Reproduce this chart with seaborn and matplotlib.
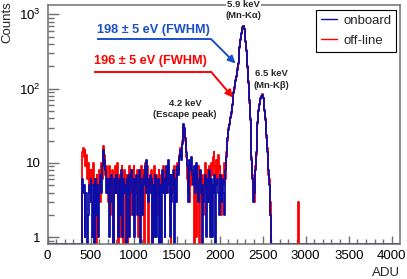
import numpy as np
import matplotlib
matplotlib.use("Agg")
import matplotlib.pyplot as plt
import seaborn as sns
from matplotlib.ticker import MultipleLocator, FixedLocator, FixedFormatter, LogLocator, NullFormatter

# ---------------- data ----------------
first_bin = 400      # ADU of first filled bin
bin_width = 10       # ADU per bin
x_max = 4096

onboard_counts = [
    6, 4, 5, 1, 4, 4, 0, 2, 5, 4,
    6, 3, 1, 5, 0, 6, 2, 5, 4, 1,
    5, 7, 4, 9, 12, 15, 11, 8, 4, 6,
    4, 6, 1, 5, 7, 3, 0, 6, 5, 4,
    7, 4, 1, 6, 2, 8, 5, 1, 6, 4,
    5, 0, 6, 4, 7, 1, 5, 8, 4, 2,
    6, 1, 5, 7, 2, 4, 8, 5, 0, 6,
    2, 5, 7, 9, 4, 11, 6, 3, 5, 7,
    4, 6, 0, 5, 1, 7, 1, 4, 6, 0,
    1, 5, 0, 8, 4, 6, 1, 5, 9, 4,
    11, 6, 1, 7, 3, 5, 8, 0, 6, 3,
    5, 9, 7, 12, 15, 11, 18, 24, 34, 30,
    22, 14, 9, 3, 6, 11, 8, 12, 7, 5,
    9, 4, 7, 10, 5, 3, 6, 8, 4, 5,
    0, 3, 5, 7, 1, 6, 3, 5, 8, 1,
    6, 1, 5, 4, 7, 0, 5, 6, 4, 2,
    5, 7, 3, 6, 4, 2, 8, 12, 16, 22,
    28, 34, 40, 48, 60, 72, 88, 105, 125, 150,
    180, 220, 280, 360, 450, 560, 660, 690, 640, 560,
    440, 320, 200, 120, 70, 38, 20, 11, 6, 3,
    4, 8, 14, 24, 36, 50, 62, 72, 80, 82,
    76, 66, 52, 38, 24, 14, 8, 5, 3, 2,
]

offline_counts = [
    14, 16, 12, 15, 9, 13, 6, 10, 4, 8,
    3, 8, 5, 10, 0, 6, 0, 7, 4, 5,
    8, 3, 10, 6, 14, 17, 13, 7, 9, 4,
    3, 7, 9, 2, 5, 8, 0, 6, 4, 9,
    5, 10, 0, 7, 1, 6, 9, 4, 0, 8,
    4, 7, 3, 0, 6, 9, 5, 2, 8, 4,
    9, 2, 6, 4, 8, 1, 5, 7, 3, 9,
    5, 8, 0, 10, 4, 7, 9, 0, 6, 4,
    8, 3, 0, 6, 9, 4, 7, 2, 5, 8,
    6, 0, 7, 4, 9, 5, 1, 8, 4, 7,
    9, 5, 2, 0, 7, 4, 6, 9, 3, 8,
    6, 10, 8, 13, 16, 12, 20, 26, 31, 28,
    20, 12, 6, 4, 7, 3, 9, 5, 8, 6,
    0, 8, 5, 1, 6, 9, 0, 7, 3, 5,
    7, 2, 6, 10, 4, 5, 8, 3, 9, 6,
    10, 7, 12, 14, 9, 5, 11, 6, 13, 8,
    9, 4, 2, 7, 5, 10, 6, 14, 18, 20,
    30, 32, 42, 46, 62, 70, 90, 100, 130, 145,
    190, 215, 290, 350, 460, 550, 670, 700, 630, 570,
    430, 330, 190, 125, 65, 40, 18, 12, 7, 4,
    3, 9, 13, 26, 34, 52, 60, 75, 78, 84,
    74, 68, 50, 40, 22, 16, 7, 6, 2, 3,
    0, 0, 0, 0, 0, 0, 0, 0, 0, 0,
    0, 0, 0, 0, 0, 0, 0, 0, 0, 0,
    0, 0, 0, 0, 0, 0, 0, 0, 0, 0,
    0, 3,
]

series_labels = ["onboard", "off-line"]
x_ticks = [0, 500, 1000, 1500, 2000, 2500, 3000, 3500, 4000]
y_ticks = [1, 10, 100, 1000]
y_tick_labels = ["1", "10", r"$\mathregular{10^{2}}$", r"$\mathregular{10^{3}}$"]

# ---------------- style ----------------
sns.set_style("ticks")
plt.rcParams["font.family"] = ["Liberation Sans", "DejaVu Sans"]
plt.rcParams["mathtext.fontset"] = "custom"
plt.rcParams["mathtext.rm"] = "Liberation Sans"
plt.rcParams["mathtext.it"] = "Liberation Sans:italic"
plt.rcParams["mathtext.bf"] = "Liberation Sans:bold"

BLUE = "#0c0ca6"
RED = "#ff0000"
FRAME = "#707070"
y_min, y_max = 0.805, 1350

W, H = 407, 279
fig = plt.figure(figsize=(W / 100, H / 100), dpi=100)
L, R, T, B = 47.5, 400.0, 4.7, 244.3
ax = fig.add_axes([L / W, 1 - B / H, (R - L) / W, (B - T) / H])


def step_arrays(counts):
    counts = np.asarray(counts, dtype=float)
    edges = first_bin + bin_width * np.arange(len(counts) + 1)
    x = np.concatenate([[0], edges, [x_max]])
    y = np.concatenate([[0], counts, [0, 0]])
    y = np.where(y <= 0, y_min, y)
    return x, y


xr, yr = step_arrays(offline_counts)
xb, yb = step_arrays(onboard_counts)
sns.lineplot(x=xr, y=yr, drawstyle="steps-post", color=RED, lw=1.3,
             estimator=None, sort=False, ax=ax, label=series_labels[1])
sns.lineplot(x=xb, y=yb, drawstyle="steps-post", color=BLUE, lw=1.3,
             estimator=None, sort=False, ax=ax, label=series_labels[0])

ax.set_yscale("log")
ax.set_xlim(0, x_max)
ax.set_ylim(y_min, y_max)
ax.set_xlabel("")
ax.set_ylabel("")

ax.xaxis.set_major_locator(FixedLocator(x_ticks))
ax.xaxis.set_minor_locator(MultipleLocator(100))
ax.yaxis.set_major_locator(FixedLocator(y_ticks))
ax.yaxis.set_major_formatter(FixedFormatter(y_tick_labels))
ax.yaxis.set_minor_locator(LogLocator(base=10, subs=np.arange(2, 10)))
ax.yaxis.set_minor_formatter(NullFormatter())

ax.tick_params(axis="both", which="both", direction="in", colors=FRAME,
               labelcolor="black", labelsize=9.5, top=False, right=False)
ax.tick_params(axis="x", which="major", length=6, width=1.0, pad=4)
ax.tick_params(axis="x", which="minor", length=3.5, width=1.0)
ax.tick_params(axis="y", which="major", length=8, width=1.0, pad=5)
ax.tick_params(axis="y", which="minor", length=4.5, width=1.0)
for s in ax.spines.values():
    s.set_color(FRAME)
    s.set_linewidth(1.1)

# legend
h, l = ax.get_legend_handles_labels()
order = [l.index(series_labels[0]), l.index(series_labels[1])]
leg = ax.legend([h[i] for i in order], [l[i] for i in order],
                loc="upper right", bbox_to_anchor=(0.9887, 0.978),
                borderaxespad=0, frameon=True, fancybox=False, framealpha=1,
                edgecolor="black", fontsize=9.5, handlelength=1.2,
                handletextpad=0.5, labelspacing=0.6, borderpad=0.35)
leg.get_frame().set_linewidth(0.8)
for line in leg.get_lines():
    line.set_linewidth(1.0)


def axp(px, py):
    return ((px - L) / (R - L), (B - py) / (B - T))


# peak annotations
def label(px, py, s):
    ax.text(*axp(px, py), s, transform=ax.transAxes, ha="center", va="center",
            fontsize=6.8, fontweight="bold", clip_on=False,
            bbox=dict(facecolor="white", edgecolor="none", pad=0.6), zorder=5)

label(243.3, 4.0, "5.9 keV")
label(243.3, 15.5, "(Mn-Kα)")
label(271.7, 73, "6.5 keV")
label(271.7, 86, "(Mn-Kβ)")
label(185, 104, "4.2 keV")
label(185, 114.5, "(Escape peak)")

# FWHM annotations
for txt, color, tx, ty, uy, tip in [
    ("198 ± 5 eV (FWHM)", "#1a50c8", 96.7, 29.5, 39.0, (235.5, 63.5)),
    ("196 ± 5 eV (FWHM)", RED, 94.3, 61.0, 71.7, (233.0, 97.5)),
]:
    ax.text(*axp(tx, ty), txt, transform=ax.transAxes, ha="left", va="center",
            fontsize=9.2, fontweight="bold", color=color, zorder=6)
    p0 = axp(tx, uy)
    p1 = axp(211, uy)
    ax.plot([p0[0], p1[0]], [p0[1], p1[1]], transform=ax.transAxes,
            color=color, lw=1.4, solid_capstyle="butt", zorder=6)
    ax.annotate("", xy=axp(*tip), xytext=p1, xycoords="axes fraction",
                textcoords="axes fraction",
                arrowprops=dict(arrowstyle="-|>", color=color, lw=1.4,
                                mutation_scale=11, shrinkA=0, shrinkB=0),
                zorder=6)

# axis titles (ROOT-style placement)
fig.text(7.5 / W, 1 - 1 / H, "Counts", rotation=90, ha="center", va="top",
         fontsize=9.5)
fig.text(399.5 / W, 1 - 273 / H, "ADU", ha="right", va="center", fontsize=9.5)

fig.savefig("out.png", dpi=100)
